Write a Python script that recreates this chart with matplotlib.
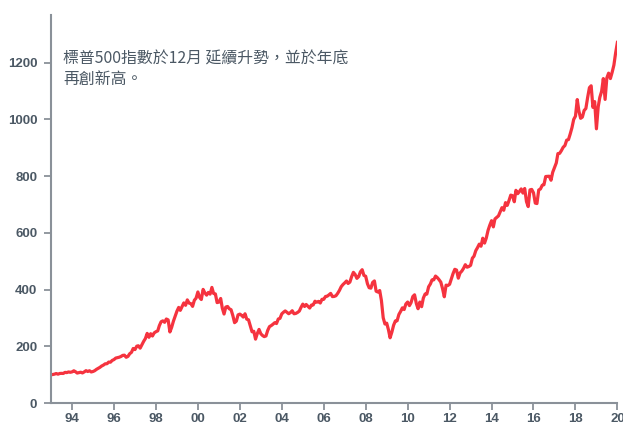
import matplotlib.pyplot as plt
import matplotlib.dates as mdates
import pandas as pd

plt.rcParams['font.family'] = ['Liberation Sans', 'Noto Sans CJK TC', 'DejaVu Sans']

# 標普500總回報指數 (1992年12月 = 100)，月底數值
sp500_tr = [
    100.0,
    100.9, 102.2, 104.4, 102.0, 104.5, 104.9, 104.6, 108.4, 107.6, 109.9, 108.7, 110.1,  # 1993
    114.0, 110.8, 106.0, 107.4, 109.0, 106.4, 110.0, 114.4, 111.5, 114.1, 109.9, 111.5,  # 1994
    114.5, 118.9, 122.4, 126.1, 130.9, 134.0, 138.6, 138.8, 144.7, 144.3, 150.5, 153.5,  # 1995
    158.8, 160.2, 161.8, 164.3, 168.3, 169.0, 161.6, 164.9, 174.2, 179.1, 192.6, 188.8,  # 1996
    200.7, 202.2, 193.8, 205.5, 217.8, 227.6, 245.8, 232.0, 244.7, 236.6, 247.5, 251.8,  # 1997
    254.7, 273.0, 287.0, 290.0, 284.9, 296.5, 293.4, 250.9, 266.9, 288.8, 306.2, 323.9,  # 1998
    337.5, 327.0, 340.0, 353.3, 344.8, 363.9, 352.6, 350.8, 341.1, 362.8, 370.1, 391.9,  # 1999
    372.3, 365.2, 400.9, 388.9, 380.7, 390.2, 384.2, 407.9, 386.5, 384.9, 354.4, 356.2,  # 2000
    368.9, 335.3, 314.1, 338.6, 340.7, 332.5, 329.3, 308.5, 283.6, 289.0, 311.1, 313.8,  # 2001
    309.4, 303.3, 314.9, 296.0, 293.7, 272.8, 251.6, 253.2, 225.6, 245.5, 259.8, 244.5,  # 2002
    238.2, 234.5, 236.8, 256.4, 269.8, 273.3, 278.2, 283.6, 280.6, 296.5, 299.0, 314.7,  # 2003
    320.6, 325.0, 320.1, 315.2, 319.5, 325.7, 315.0, 316.2, 319.6, 324.5, 337.5, 349.0,  # 2004
    340.7, 347.7, 341.5, 335.2, 345.8, 346.2, 359.2, 355.7, 358.7, 352.9, 365.9, 366.1,  # 2005
    376.0, 376.8, 381.6, 386.8, 375.5, 376.1, 378.6, 387.2, 397.4, 410.5, 418.0, 423.9,  # 2006
    430.5, 421.8, 426.7, 445.8, 461.1, 453.6, 439.8, 446.1, 462.8, 470.4, 450.4, 447.2,  # 2007
    420.7, 406.9, 405.3, 425.4, 430.8, 394.6, 391.5, 397.0, 361.7, 301.0, 279.1, 281.8,  # 2008
    258.2, 230.3, 250.4, 274.5, 289.7, 290.3, 312.5, 323.6, 335.9, 329.9, 349.5, 356.4,  # 2009
    343.8, 354.2, 375.7, 381.9, 351.2, 332.8, 356.3, 340.0, 370.4, 384.7, 384.4, 410.2,  # 2010
    420.2, 434.4, 434.7, 447.9, 442.6, 435.3, 426.7, 403.1, 374.9, 415.9, 414.6, 418.8,  # 2011
    437.9, 456.5, 471.7, 469.1, 440.5, 458.8, 465.5, 475.5, 488.0, 479.2, 481.5, 485.8,  # 2012
    511.2, 517.8, 537.4, 548.1, 560.5, 553.1, 581.4, 564.2, 582.1, 609.1, 627.3, 643.2,  # 2013
    621.4, 649.3, 654.9, 660.1, 675.1, 689.2, 680.0, 706.8, 697.0, 714.4, 733.2, 731.3,  # 2014
    709.9, 750.2, 738.4, 746.0, 755.2, 740.6, 756.6, 710.4, 692.9, 751.7, 753.4, 741.5,  # 2015
    705.2, 703.6, 751.4, 754.9, 767.9, 770.0, 798.9, 799.4, 799.9, 785.8, 814.1, 830.5,  # 2016
    846.8, 879.7, 880.8, 890.3, 902.1, 908.0, 927.1, 929.1, 948.6, 971.2, 1000.1, 1011.6,  # 2017
    1070.2, 1030.2, 1004.1, 1008.4, 1031.9, 1038.6, 1077.7, 1112.2, 1118.7, 1042.7, 1063.1, 967.1,  # 2018
    1045.0, 1077.9, 1099.0, 1144.2, 1070.7, 1146.4, 1163.3, 1144.2, 1165.8, 1191.6, 1234.3, 1271.7,  # 2019
]
month_ends = pd.date_range('1993-01-01', periods=len(sp500_tr), freq='MS')

y_ticks = [0, 200, 400, 600, 800, 1000, 1200]
x_tick_years = list(range(1994, 2021, 2))
note = '標普500指數於12月 延續升勢，並於年底\n再創新高。'

text_grey = '#4b5864'
axis_grey = '#8a9199'

fig = plt.figure(figsize=(6.23, 4.23), dpi=100)
ax = fig.add_axes([0.082, 0.047, 0.909, 0.918])

ax.plot(month_ends, sp500_tr, color='#f5333f', linewidth=2.3, solid_joinstyle='round')

ax.set_xlim(pd.Timestamp('1993-01-01'), pd.Timestamp('2020-01-01'))
ax.set_ylim(0, 1369)
ax.set_yticks(y_ticks)
ax.set_xticks([pd.Timestamp(f'{y}-01-01') for y in x_tick_years])
ax.xaxis.set_major_formatter(mdates.DateFormatter('%y'))

for side in ['top', 'right']:
    ax.spines[side].set_visible(False)
for side in ['left', 'bottom']:
    ax.spines[side].set_color(axis_grey)
    ax.spines[side].set_linewidth(1.5)

ax.tick_params(axis='both', colors=axis_grey, length=5, width=1.3, direction='out')
ax.tick_params(axis='both', labelcolor=text_grey, labelsize=9.5)
ax.tick_params(axis='y', pad=5)
ax.tick_params(axis='x', pad=2)
for lbl in ax.get_xticklabels() + ax.get_yticklabels():
    lbl.set_fontweight('bold')

ax.text(0.021, 0.908, note, transform=ax.transAxes, ha='left', va='top',
        fontsize=11.4, color=text_grey, linespacing=1.3, fontweight='medium',
        family=['Noto Sans CJK TC', 'DejaVu Sans'])

fig.savefig('out.png', dpi=100)
